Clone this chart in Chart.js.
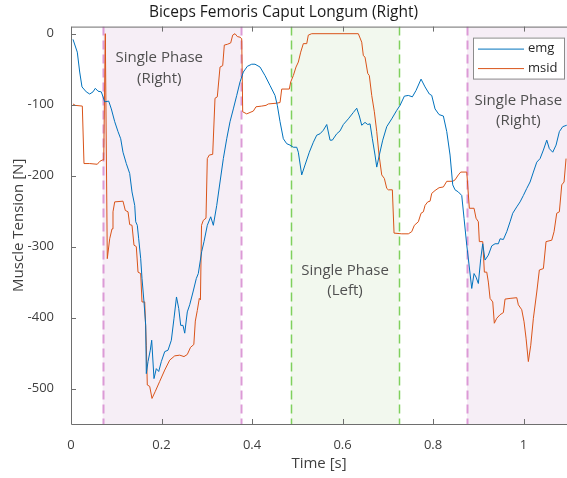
<!DOCTYPE html>
<html>
<head>
<meta charset="utf-8">
<script src="https://cdn.jsdelivr.net/npm/chart.js@4/dist/chart.umd.min.js"></script>
<style>
  html, body { margin: 0; padding: 0; background: #fff; }
  #wrap { width: 567px; height: 478px; }
</style>
</head>
<body>
<div id="wrap"><canvas id="myChart" width="567" height="478"></canvas></div>
<script>
// muscle tension, biceps femoris caput longum (right)

var emgTime = [0.0044, 0.0139, 0.0192, 0.0243, 0.0338, 0.0413, 0.0486, 0.0537, 0.0597, 0.0670,
    0.0745, 0.0833, 0.0891, 0.0966, 0.1039, 0.1098, 0.1149, 0.1222, 0.1297, 0.1348,
    0.1408, 0.1430, 0.1465, 0.1496, 0.1540, 0.1569, 0.1613, 0.1651, 0.1664, 0.1702,
    0.1752, 0.1783, 0.1834, 0.1885, 0.1938, 0.1996, 0.2071, 0.2144, 0.2217, 0.2276,
    0.2331, 0.2380, 0.2424, 0.2475, 0.2513, 0.2570, 0.2623, 0.2696, 0.2769, 0.2813,
    0.2888, 0.2939, 0.3012, 0.3087, 0.3145, 0.3220, 0.3293, 0.3366, 0.3441, 0.3514,
    0.3587, 0.3662, 0.3735, 0.3808, 0.3896, 0.3993, 0.4066, 0.4177, 0.4287, 0.4398,
    0.4508, 0.4559, 0.4619, 0.4692, 0.4767, 0.4840, 0.4913, 0.4988, 0.5023, 0.5098,
    0.5171, 0.5266, 0.5355, 0.5430, 0.5503, 0.5576, 0.5651, 0.5724, 0.5775, 0.5872,
    0.5945, 0.6018, 0.6128, 0.6239, 0.6314, 0.6371, 0.6424, 0.6497, 0.6557, 0.6608,
    0.6659, 0.6718, 0.6756, 0.6813, 0.6888, 0.6977, 0.7087, 0.7198, 0.7271, 0.7366,
    0.7454, 0.7543, 0.7624, 0.7735, 0.7823, 0.7918, 0.7971, 0.8044, 0.8133, 0.8228,
    0.8303, 0.8376, 0.8435, 0.8486, 0.8559, 0.8634, 0.8685, 0.8745, 0.8796, 0.8855,
    0.8906, 0.8950, 0.9001, 0.9054, 0.9098, 0.9149, 0.9222, 0.9297, 0.9370, 0.9443,
    0.9481, 0.9554, 0.9629, 0.9702, 0.9761, 0.9850, 0.9923, 0.9996, 1.0071, 1.0144,
    1.0217, 1.0292, 1.0365, 1.0438, 1.0513, 1.0570, 1.0645, 1.0718, 1.0791, 1.0866,
    1.0954];
var emgValues = [-8, -26, -54, -75, -82, -85, -82, -77, -81, -82,
    -96, -95, -106, -124, -138, -148, -167, -183, -197, -223,
    -242, -265, -270, -289, -317, -345, -378, -411, -479, -462,
    -446, -432, -486, -472, -476, -462, -448, -446, -432, -401,
    -371, -387, -411, -411, -422, -392, -382, -364, -345, -338,
    -307, -293, -270, -258, -270, -242, -209, -176, -148, -124,
    -106, -87, -68, -54, -46, -43, -43, -47, -59, -73,
    -87, -101, -124, -148, -155, -157, -160, -160, -167, -199,
    -185, -167, -153, -143, -141, -136, -128, -150, -150, -141,
    -137, -128, -120, -111, -105, -116, -129, -125, -128, -127,
    -148, -171, -188, -171, -150, -131, -120, -108, -101, -88,
    -87, -89, -80, -64, -75, -85, -87, -106, -114, -116,
    -138, -171, -213, -220, -223, -228, -260, -298, -326, -359,
    -338, -343, -352, -317, -296, -319, -312, -299, -296, -296,
    -289, -290, -279, -265, -253, -244, -237, -228, -218, -209,
    -195, -181, -176, -164, -150, -162, -167, -157, -138, -131,
    -129];

var msidTime = [0.0044, 0.0095, 0.0250, 0.0287, 0.0413, 0.0581, 0.0634, 0.0692, 0.0723, 0.0758,
    0.0802, 0.0855, 0.0906, 0.0928, 0.0966, 0.1149, 0.1200, 0.1260, 0.1297, 0.1348,
    0.1392, 0.1443, 0.1481, 0.1540, 0.1569, 0.1629, 0.1664, 0.1686, 0.1739, 0.1790,
    0.1863, 0.1960, 0.2071, 0.2181, 0.2292, 0.2402, 0.2497, 0.2570, 0.2641, 0.2714,
    0.2747, 0.2791, 0.2835, 0.2860, 0.2884, 0.2924, 0.2983, 0.3012, 0.3056, 0.3131,
    0.3182, 0.3233, 0.3293, 0.3352, 0.3388, 0.3454, 0.3529, 0.3573, 0.3624, 0.3675,
    0.3735, 0.3772, 0.3794, 0.3883, 0.3956, 0.4029, 0.4088, 0.4214, 0.4309, 0.4360,
    0.4530, 0.4619, 0.4656, 0.4824, 0.4855, 0.4913, 0.4972, 0.5023, 0.5076, 0.5134,
    0.5209, 0.5244, 0.5319, 0.6349, 0.6424, 0.6460, 0.6497, 0.6557, 0.6592, 0.6645,
    0.6703, 0.6756, 0.6807, 0.6866, 0.6924, 0.6977, 0.7012, 0.7101, 0.7138, 0.7308,
    0.7454, 0.7529, 0.7587, 0.7675, 0.7735, 0.7786, 0.7823, 0.7883, 0.7934, 0.7971,
    0.8044, 0.8133, 0.8228, 0.8303, 0.8435, 0.8486, 0.8559, 0.8612, 0.8745, 0.8802,
    0.8906, 0.8950, 0.9001, 0.9023, 0.9098, 0.9134, 0.9187, 0.9222, 0.9260, 0.9319,
    0.9354, 0.9408, 0.9481, 0.9554, 0.9591, 0.9702, 0.9850, 0.9885, 0.9960, 1.0011,
    1.0055, 1.0106, 1.0159, 1.0217, 1.0292, 1.0349, 1.0438, 1.0497, 1.0623, 1.0674,
    1.0733, 1.0791, 1.0844, 1.0895, 1.0939];
var msidValues = [-99, -101, -102, -183, -183, -184, -180, -178, -178, 0,
    -317, -289, -275, -251, -237, -236, -249, -251, -269, -270,
    -298, -300, -336, -338, -378, -378, -439, -495, -497, -514,
    -504, -490, -474, -460, -454, -453, -455, -452, -442, -438,
    -405, -390, -373, -375, -270, -263, -260, -176, -171, -170,
    -91, -89, -47, -45, -16, -15, -13, -2, 0, -4,
    -5, -7, -110, -113, -111, -109, -103, -102, -101, -99,
    -98, -97, -78, -78, -68, -59, -47, -40, -26, -14,
    -14, -2, 0, 0, -12, -31, -33, -56, -59, -87,
    -110, -138, -171, -199, -204, -218, -220, -220, -281, -282,
    -282, -279, -270, -265, -253, -251, -242, -237, -236, -225,
    -221, -217, -216, -208, -208, -206, -199, -195, -195, -246,
    -246, -260, -265, -293, -293, -336, -336, -350, -373, -378,
    -408, -401, -396, -393, -374, -373, -372, -382, -389, -406,
    -429, -462, -439, -401, -364, -333, -331, -293, -291, -279,
    -253, -251, -213, -209, -176];

// phases: start, end, kind
var phaseStart = [0.070, 0.4855, 0.875];
var phaseEnd = [0.375, 0.7255, 1.2];
var phaseKind = ['right', 'left', 'right'];
var phaseLabelX = [0.195, 0.6055, 0.9886];
var phaseLabelY = [-34, -334, -94];
var phaseLabelText = [['Single Phase', '(Right)'], ['Single Phase', '(Left)'], ['Single Phase', '(Right)']];

var xTicks = [0, 0.2, 0.4, 0.6, 0.8, 1];
var xTickLabels = ['0', '0.2', '0.4', '0.6', '0.8', '1'];
var yTicks = [0, -100, -200, -300, -400, -500];

var fillColor = { right: '#f6eef6', left: '#f2f8ee' };
var dashColor = { right: '#dc9ad6', left: '#7fd05c' };
var dashWidth = { right: 2, left: 1.5 };

var phasePlugin = {
    id: 'phases',
    beforeDatasetsDraw: function (chart) {
        var ctx = chart.ctx, a = chart.chartArea;
        var xs = chart.scales.x, ys = chart.scales.y;
        ctx.save();
        ctx.beginPath();
        ctx.rect(a.left, a.top, a.right - a.left, a.bottom - a.top);
        ctx.clip();
        for (var i = 0; i < phaseStart.length; i++) {
            var x0 = xs.getPixelForValue(phaseStart[i]);
            var x1 = xs.getPixelForValue(phaseEnd[i]);
            ctx.fillStyle = fillColor[phaseKind[i]];
            ctx.fillRect(x0, a.top, x1 - x0, a.bottom - a.top);
        }
        for (var i = 0; i < phaseStart.length; i++) {
            ctx.strokeStyle = dashColor[phaseKind[i]];
            ctx.lineWidth = dashWidth[phaseKind[i]];
            ctx.setLineDash([9, 5]);
            [phaseStart[i], phaseEnd[i]].forEach(function (v) {
                var px = Math.round(xs.getPixelForValue(v)) + 0.5;
                if (px > a.right) return;
                ctx.beginPath();
                ctx.moveTo(px, a.top);
                ctx.lineTo(px, a.bottom);
                ctx.stroke();
            });
        }
        ctx.setLineDash([]);
        ctx.fillStyle = '#505050';
        ctx.font = '15px "Open Sans"';
        ctx.textAlign = 'center';
        ctx.textBaseline = 'middle';
        for (var i = 0; i < phaseLabelX.length; i++) {
            var lx = xs.getPixelForValue(phaseLabelX[i]);
            var ly = ys.getPixelForValue(phaseLabelY[i]);
            phaseLabelText[i].forEach(function (t, k) {
                ctx.fillText(t, lx, ly + k * 20.5);
            });
        }
        ctx.restore();
    },
    afterDraw: function (chart) {
        var ctx = chart.ctx, a = chart.chartArea;
        var xs = chart.scales.x, ys = chart.scales.y;
        ctx.save();
        ctx.strokeStyle = '#6e6e6e';
        ctx.lineWidth = 1;
        // box
        ctx.beginPath();
        ctx.moveTo(a.right, a.top + 0.5);
        ctx.lineTo(a.left + 0.5, a.top + 0.5);
        ctx.lineTo(a.left + 0.5, a.bottom + 0.5);
        ctx.lineTo(a.right, a.bottom + 0.5);
        ctx.stroke();
        // inward ticks
        ctx.beginPath();
        xTicks.forEach(function (v) {
            var px = Math.round(xs.getPixelForValue(v)) + 0.5;
            ctx.moveTo(px, a.bottom);
            ctx.lineTo(px, a.bottom - 5);
            ctx.moveTo(px, a.top);
            ctx.lineTo(px, a.top + 5);
        });
        yTicks.forEach(function (v) {
            var py = Math.round(ys.getPixelForValue(v)) + 0.5;
            ctx.moveTo(a.left, py);
            ctx.lineTo(a.left + 5, py);
        });
        ctx.stroke();
        // legend
        var lx = a.right - 94, ly = a.top + 11, lw = 91, lh = 41;
        ctx.fillStyle = '#ffffff';
        ctx.fillRect(lx, ly, lw, lh);
        ctx.strokeStyle = '#8c8c8c';
        ctx.strokeRect(lx + 0.5, ly + 0.5, lw, lh);
        var items = chart.data.datasets;
        ctx.font = '13px "Open Sans"';
        ctx.textAlign = 'left';
        ctx.textBaseline = 'middle';
        items.forEach(function (d, k) {
            var yy = ly + 11 + k * 19.5;
            ctx.strokeStyle = d.borderColor;
            ctx.beginPath();
            ctx.moveTo(lx + 5, yy + 0.5);
            ctx.lineTo(lx + 51, yy + 0.5);
            ctx.stroke();
            ctx.fillStyle = '#262626';
            ctx.fillText(d.label, lx + 55, yy);
        });
        ctx.restore();
    }
};

new Chart("myChart", {
    type: "line",
    data: {
        datasets: [{
            label: 'emg',
            data: emgTime.map(function (t, i) { return { x: t, y: emgValues[i] }; }),
            borderColor: "#0072BD",
            borderWidth: 1,
            pointRadius: 0,
            fill: false
        }, {
            label: 'msid',
            data: msidTime.map(function (t, i) { return { x: t, y: msidValues[i] }; }),
            borderColor: "#D95319",
            borderWidth: 1,
            pointRadius: 0,
            fill: false
        }]
    },
    options: {
        responsive: false,
        animation: false,
        events: [],
        layout: { padding: 0 },
        plugins: {
            legend: { display: false },
            tooltip: { enabled: false },
            title: {
                display: true,
                text: 'Biceps Femoris Caput Longum (Right)',
                color: '#1a1a1a',
                font: { family: '"Open Sans"', size: 15.5, weight: 'normal' },
                padding: { top: 3, bottom: 5 }
            }
        },
        scales: {
            x: {
                type: 'linear',
                min: 0,
                max: 1.096,
                afterBuildTicks: function (s) { s.ticks = xTicks.map(function (v) { return { value: v }; }); },
                afterFit: function (s) { s.height = 54; },
                grid: { display: false },
                border: { display: false },
                ticks: {
                    color: '#404040', padding: 5, maxRotation: 0, font: { family: '"Open Sans"', size: 13 },
                    callback: function (v, i) { return xTickLabels[i]; }
                },
                title: { display: true, text: 'Time [s]', color: '#404040', font: { family: '"Open Sans"', size: 15 }, padding: { top: 0, bottom: 5 } }
            },
            y: {
                min: -550,
                max: 10,
                afterBuildTicks: function (s) { s.ticks = yTicks.map(function (v) { return { value: v }; }); },
                afterFit: function (s) { s.width = 71; },
                grid: { display: false },
                border: { display: false },
                ticks: { color: '#404040', padding: 9, font: { family: '"Open Sans"', size: 13 } },
                title: { display: true, text: 'Muscle Tension [N]', color: '#404040', font: { family: '"Open Sans"', size: 15 }, padding: { top: 10, bottom: 0 } }
            }
        }
    },
    plugins: [phasePlugin]
});
</script>
</body>
</html>
